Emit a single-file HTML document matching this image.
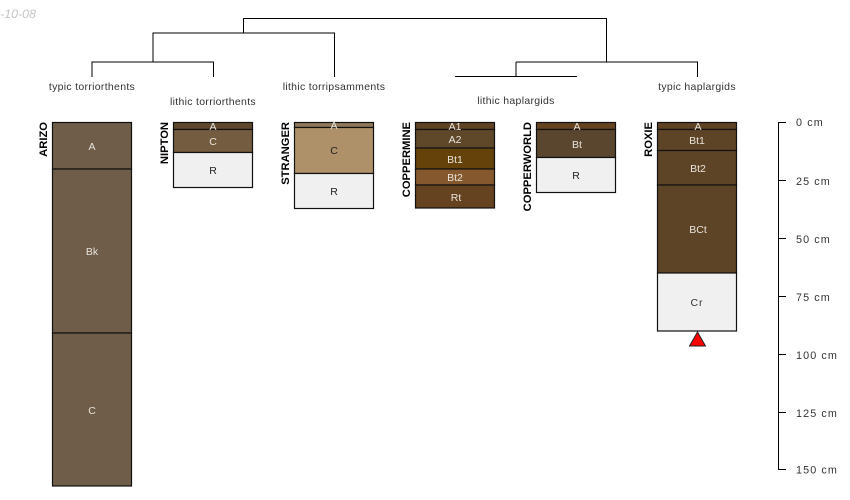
<!DOCTYPE html>
<html><head><meta charset="utf-8"><style>
html,body{margin:0;padding:0;background:#fff;width:850px;height:500px;overflow:hidden}
svg{display:block}
text{font-family:"Liberation Sans",sans-serif;font-size:10.5px;text-anchor:middle;fill:#222}
.w{fill:#e8e4dc}
.l{fill:#333;letter-spacing:.3px}
.n{font-weight:bold;font-size:11.200px;text-anchor:end;fill:#000}
.s{text-anchor:start;fill:#333;font-size:10.800px;letter-spacing:1.100px}
.h rect{stroke:#111;stroke-width:1.200}
path{fill:none;stroke:#000;stroke-width:1}
</style></head><body>
<svg width="850" height="500" viewBox="0 0 850 500" xmlns="http://www.w3.org/2000/svg">
<text x="-27.500" y="18" style="text-anchor:start;font-style:italic;fill:#c4c4c4;font-size:12.400px">2021-10-08</text>

<path d="M243.500 33V18.500H606.500V62"/>
<path d="M153 62V33H334.500V77M92 77V62H213.500V77" stroke="#555"/>
<path d="M516 62H697.500V77M516 62V76M455 76.500H577"/>

<text class="l" x="92" y="90">typic torriorthents</text>
<text class="l" x="213" y="105">lithic torriorthents</text>
<text class="l" x="334" y="90">lithic torripsamments</text>
<text class="l" x="516" y="104">lithic haplargids</text>
<text class="l" x="697" y="90">typic haplargids</text>

<g class="h">
<rect x="52.500" y="122.500" width="79" height="46.500" fill="#6f5d49"/>
<rect x="52.500" y="169" width="79" height="164" fill="#6f5d49"/>
<rect x="52.500" y="333" width="79" height="153" fill="#6f5d49"/>

<rect x="173.500" y="122.500" width="79" height="7" fill="#5e472c"/>
<rect x="173.500" y="129.500" width="79" height="23" fill="#745c40"/>
<rect x="173.500" y="152.500" width="79" height="35" fill="#f0f0f0"/>

<rect x="294.500" y="122.500" width="79" height="5" fill="#8f7858"/>
<rect x="294.500" y="127.500" width="79" height="46" fill="#ae9168"/>
<rect x="294.500" y="173.500" width="79" height="35" fill="#f0f0f0"/>

<rect x="415.500" y="122.500" width="79" height="7" fill="#5e4223"/>
<rect x="415.500" y="129.500" width="79" height="18.500" fill="#5f4729"/>
<rect x="415.500" y="148" width="79" height="21" fill="#654209"/>
<rect x="415.500" y="169" width="79" height="16" fill="#85592d"/>
<rect x="415.500" y="185" width="79" height="23" fill="#654220"/>

<rect x="536.500" y="122.500" width="79" height="7" fill="#654220"/>
<rect x="536.500" y="129.500" width="79" height="28" fill="#5a462e"/>
<rect x="536.500" y="157.500" width="79" height="35" fill="#f0f0f0"/>

<rect x="657.500" y="122.500" width="79" height="7" fill="#5e4223"/>
<rect x="657.500" y="129.500" width="79" height="21" fill="#5e4426"/>
<rect x="657.500" y="150.500" width="79" height="34.500" fill="#5e4426"/>
<rect x="657.500" y="185" width="79" height="88" fill="#5e4426"/>
<rect x="657.500" y="273" width="79" height="58" fill="#f0f0f0"/>
</g>

<text class="w" x="92" y="150">A</text>
<text class="w" x="92" y="255">Bk</text>
<text class="w" x="92" y="414">C</text>
<text class="w" x="213" y="130">A</text>
<text class="w" x="213" y="145">C</text>
<text x="213" y="174">R</text>
<text class="w" x="334" y="129">A</text>
<text x="334" y="154">C</text>
<text x="334" y="195">R</text>
<text class="w" x="455" y="130">A1</text>
<text class="w" x="455" y="143">A2</text>
<text class="w" x="455" y="163">Bt1</text>
<text class="w" x="455" y="181">Bt2</text>
<text class="w" x="456" y="201">Rt</text>
<text class="w" x="577" y="130">A</text>
<text class="w" x="577" y="148">Bt</text>
<text x="576" y="179">R</text>
<text class="w" x="698" y="130">A</text>
<text class="w" x="697" y="144">Bt1</text>
<text class="w" x="698" y="172">Bt2</text>
<text class="w" x="698" y="233">BCt</text>
<text x="697" y="306" style="letter-spacing:1px;fill:#333">Cr</text>

<text class="n" transform="translate(47,122) rotate(-90)">ARIZO</text>
<text class="n" transform="translate(168,122) rotate(-90)">NIPTON</text>
<text class="n" transform="translate(289,122) rotate(-90)">STRANGER</text>
<text class="n" transform="translate(410,122) rotate(-90)">COPPERMINE</text>
<text class="n" transform="translate(531,122) rotate(-90)">COPPERWORLD</text>
<text class="n" transform="translate(652,122) rotate(-90)">ROXIE</text>

<polygon points="697.500,332 705.500,346 689.500,346" fill="#f00" stroke="#222" stroke-width="1"/>

<path d="M786 122.500H778.500V469.500H786M778.500 180.500H786M778.500 238.500H786M778.500 296.500H786M778.500 354.500H786M778.500 412.500H786" stroke="#555"/>
<text class="s" x="796" y="126">0 cm</text>
<text class="s" x="796" y="185">25 cm</text>
<text class="s" x="796" y="243">50 cm</text>
<text class="s" x="796" y="301">75 cm</text>
<text class="s" x="796" y="359">100 cm</text>
<text class="s" x="796" y="417">125 cm</text>
<text class="s" x="796" y="473.500">150 cm</text>
</svg>
</body></html>
